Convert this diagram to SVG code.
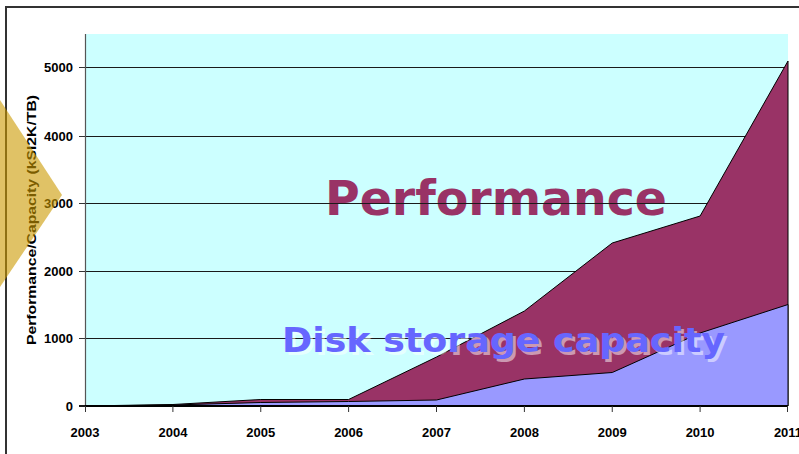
<svg xmlns="http://www.w3.org/2000/svg" width="799" height="454" viewBox="0 0 799 454">
<style>
.grid{stroke:#1a1a1a;stroke-width:1;fill:none}
.tick{stroke:#333;stroke-width:1}
.lbl{font-family:"Liberation Sans",Arial,sans-serif;font-weight:bold;font-size:13px;fill:#000}
.big{font-family:"DejaVu Sans",Verdana,sans-serif;font-weight:bold}
.area{stroke:#000;stroke-width:1;stroke-linejoin:round}
</style>
<rect width="799" height="454" fill="#fff"/>
<g id="frame">
<path d="M5 7 H799 M6 7 V454" stroke="#333" stroke-width="2" fill="none"/>
</g>
<g id="plot-bg">
<rect x="85" y="34" width="703" height="372" fill="#CCFFFF"/>
</g>
<g id="performance-label">
<text class="big" x="325" y="215" font-size="48" fill="#993366" textLength="342" lengthAdjust="spacingAndGlyphs">Performance</text>
</g>
<g id="gridlines">
<path class="grid" d="M79 67.5 H788 M79 136.5 H788 M79 203.5 H788 M79 271.5 H788 M79 338.5 H788"/>
</g>
<g id="performance-area">
<path class="area" fill="#993366" d="M85 406 L172.9 404.5 L260.75 399.5 L348.6 399.5 L436.5 357 L524.4 311 L612.25 243 L700.1 216 L788 61 L788 406 Z"/>
</g>
<g id="disk-area">
<path class="area" fill="#9999FF" d="M85 406 L172.9 405 L260.75 402.5 L348.6 401.5 L436.5 400 L524.4 379 L612.25 372.5 L700.1 333 L788 304.5 L788 406 Z"/>
</g>
<g id="axes">
<path d="M85.5 34 V406" stroke="#555" stroke-width="1.2"/>
<path d="M79 406 H788" stroke="#000" stroke-width="2"/>
<path class="tick" d="M79 67.5 H85 M79 136.5 H85 M79 203.5 H85 M79 271.5 H85 M79 338.5 H85 M79 406 H85"/>
<path class="tick" d="M85.5 406 V412 M172.9 406 V412 M260.75 406 V412 M348.6 406 V412 M436.5 406 V412 M524.4 406 V412 M612.25 406 V412 M700.1 406 V412 M787.5 406 V412"/>
</g>
<g id="y-labels" text-anchor="end">
<text class="lbl" x="73" y="72">5000</text>
<text class="lbl" x="73" y="141">4000</text>
<text class="lbl" x="73" y="208">3000</text>
<text class="lbl" x="73" y="276">2000</text>
<text class="lbl" x="73" y="343">1000</text>
<text class="lbl" x="73" y="411">0</text>
</g>
<g id="x-labels" text-anchor="middle">
<text class="lbl" x="85" y="437">2003</text>
<text class="lbl" x="172.9" y="437">2004</text>
<text class="lbl" x="260.75" y="437">2005</text>
<text class="lbl" x="348.6" y="437">2006</text>
<text class="lbl" x="436.5" y="437">2007</text>
<text class="lbl" x="524.4" y="437">2008</text>
<text class="lbl" x="612.25" y="437">2009</text>
<text class="lbl" x="700.1" y="437">2010</text>
<text class="lbl" x="788" y="437">2011</text>
</g>
<g id="y-title">
<text class="lbl" font-size="15" transform="translate(35.5,345) rotate(-90)" textLength="250" lengthAdjust="spacingAndGlyphs">Performance/Capacity (kSI2K/TB)</text>
</g>
<g id="disk-label">
<text class="big" x="285" y="355" font-size="33" fill="#ffffff" fill-opacity="0.5" textLength="443" lengthAdjust="spacingAndGlyphs">Disk storage capacity</text>
<text class="big" x="282" y="352" font-size="33" fill="#6666FF" textLength="443" lengthAdjust="spacingAndGlyphs">Disk storage capacity</text>
</g>
<g id="chevron">
<polygon points="0,100 62,195 0,287" fill="#CC9900" fill-opacity="0.6"/>
</g>
</svg>
